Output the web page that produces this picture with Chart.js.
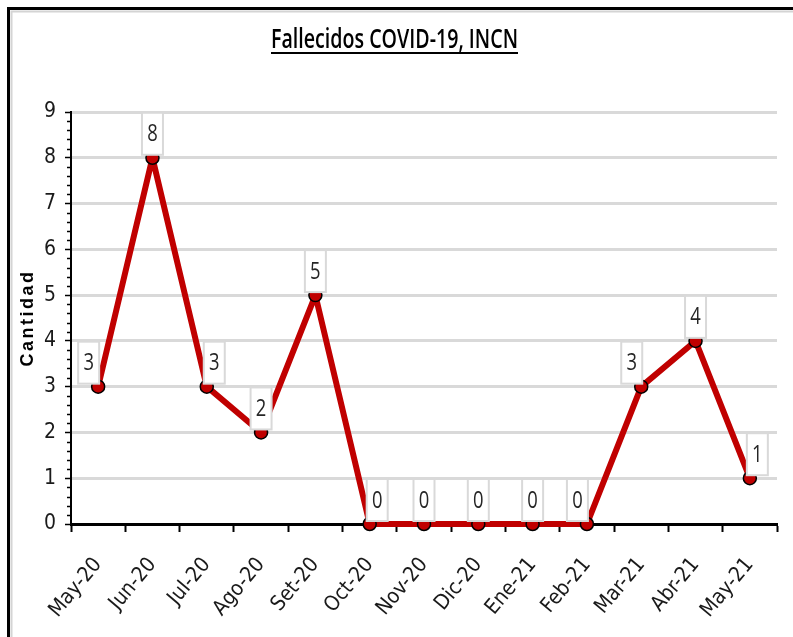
<!DOCTYPE html>
<html>
<head>
<meta charset="utf-8">
<script src="https://cdn.jsdelivr.net/npm/chart.js@4.4.1/dist/chart.umd.min.js"></script>
<style>
  html, body { margin: 0; padding: 0; background: #fff; }
  canvas { display: block; }
</style>
</head>
<body>
<canvas id="c" width="793" height="637"></canvas>
<script>
// ---- data ----
const categories = ['May-20','Jun-20','Jul-20','Ago-20','Set-20','Oct-20','Nov-20','Dic-20','Ene-21','Feb-21','Mar-21','Abr-21','May-21'];
const fallecidos = [3, 8, 3, 2, 5, 0, 0, 0, 0, 0, 3, 4, 1];
const yTicks = [0,1,2,3,4,5,6,7,8,9];
const titleText = 'Fallecidos COVID-19, INCN';
const yTitle = 'Cantidad';
// label placement relative to point (style only)
const labelSide = ['left','center','right','center','center','right','center','center','center','left','left','center','right'];

const NARROW = "'Liberation Sans Narrow', 'DejaVu Sans Condensed', 'Open Sans', sans-serif";

const framePlugin = {
  id: 'frame',
  beforeDraw(chart) {
    const ctx = chart.ctx;
    ctx.save();
    ctx.fillStyle = '#fff';
    ctx.fillRect(0, 0, chart.width, chart.height);
    ctx.strokeStyle = '#d4d4d4';
    ctx.lineWidth = 2;
    ctx.beginPath();
    ctx.moveTo(11.5, chart.height);
    ctx.lineTo(11.5, 11.5);
    ctx.lineTo(chart.width, 11.5);
    ctx.stroke();
    ctx.strokeStyle = '#000';
    ctx.lineWidth = 3;
    ctx.beginPath();
    ctx.moveTo(8.5, chart.height);
    ctx.lineTo(8.5, 8.5);
    ctx.lineTo(chart.width, 8.5);
    ctx.stroke();
    ctx.restore();
  },
  afterDraw(chart) {
    const ctx = chart.ctx;
    ctx.save();
    // title: tall narrow glyphs, compressed horizontally to the reference width
    ctx.font = "600 27px 'Open Sans', 'Liberation Sans', sans-serif";
    ctx.fillStyle = '#000';
    ctx.textAlign = 'left';
    ctx.textBaseline = 'alphabetic';
    const natural = ctx.measureText(titleText).width;
    const targetW = 247;
    const sx = targetW / natural;
    const left = 271;
    ctx.save();
    ctx.translate(left, 48);
    ctx.scale(sx, 1);
    ctx.fillText(titleText, 0, 0);
    ctx.restore();
    ctx.fillRect(left, 52, targetW, 2);
    // y axis title
    ctx.translate(28, 318);
    ctx.rotate(-Math.PI / 2);
    ctx.font = "bold 18px 'Liberation Sans', Arial, sans-serif";
    ctx.letterSpacing = '2.5px';
    ctx.textAlign = 'center';
    ctx.textBaseline = 'middle';
    ctx.fillText(yTitle, 0, 0);
    ctx.restore();

    // minor ticks on y axis
    const y = chart.scales.y;
    ctx.save();
    ctx.strokeStyle = '#000';
    ctx.lineWidth = 1.5;
    for (let v = 0; v < 9; v += 1) {
      for (let k = 1; k < 5; k++) {
        const py = Math.round(y.getPixelForValue(v + k * 0.2)) + 0.5;
        ctx.beginPath();
        ctx.moveTo(y.right - 4, py);
        ctx.lineTo(y.right, py);
        ctx.stroke();
      }
    }
    ctx.restore();
  }
};

const labelPlugin = {
  id: 'boxLabels',
  afterDatasetsDraw(chart) {
    const ctx = chart.ctx;
    const meta = chart.getDatasetMeta(0);
    ctx.save();
    ctx.textAlign = 'center';
    ctx.textBaseline = 'middle';
    meta.data.forEach((pt, i) => {
      const bw = 21, bh = 42;
      let left;
      const side = labelSide[i];
      if (side === 'left') left = pt.x + 1 - bw;
      else if (side === 'right') left = pt.x - 3;
      else left = pt.x - bw / 2;
      const top = pt.y - 3 - bh;
      ctx.fillStyle = '#fff';
      ctx.fillRect(left, top, bw, bh);
      ctx.strokeStyle = '#d9d9d9';
      ctx.lineWidth = 2;
      ctx.strokeRect(left, top, bw, bh);
      ctx.fillStyle = '#262626';
      ctx.save();
      ctx.translate(left + bw / 2, top + bh / 2 + 1);
      ctx.scale(0.8, 1);
      ctx.font = "23px 'Open Sans', 'Liberation Sans', sans-serif";
      ctx.fillText(String(fallecidos[i]), 0, 0);
      ctx.restore();
    });
    ctx.restore();
  }
};

new Chart(document.getElementById('c'), {
  type: 'line',
  data: {
    labels: categories,
    datasets: [{
      data: fallecidos,
      borderColor: '#c00000',
      borderWidth: 6,
      pointRadius: 6.5,
      pointBackgroundColor: '#c00000',
      pointBorderColor: '#000',
      pointBorderWidth: 1.5,
      tension: 0,
      clip: false
    }]
  },
  options: {
    responsive: false,
    animation: false,
    devicePixelRatio: 1,
    layout: { padding: { top: 112, right: 16, left: 0, bottom: 0 } },
    plugins: { legend: { display: false }, tooltip: { enabled: false }, title: { display: false } },
    scales: {
      x: {
        offset: true,
        grid: { offset: true, drawOnChartArea: false, tickLength: 8, tickColor: '#000', tickWidth: 2 },
        border: { color: '#000', width: 3 },
        ticks: {
          minRotation: 50, maxRotation: 50, padding: 21,
          color: '#1a1a1a',
          font: { family: NARROW, size: 21 }
        },
        afterFit(scale) { scale.height = 637 - 524; }
      },
      y: {
        min: 0, max: 9,
        afterBuildTicks(scale) { scale.ticks = yTicks.map(v => ({ value: v })); },
        grid: { color: '#d9d9d9', lineWidth: 3, tickColor: '#000', tickLength: 6, tickWidth: 1.5 },
        border: { color: '#000', width: 2 },
        ticks: {
          padding: 9,
          color: '#1a1a1a',
          font: { family: NARROW, size: 21 }
        },
        afterFit(scale) { scale.width = 71; }
      }
    }
  },
  plugins: [framePlugin, labelPlugin]
});
</script>
</body>
</html>
